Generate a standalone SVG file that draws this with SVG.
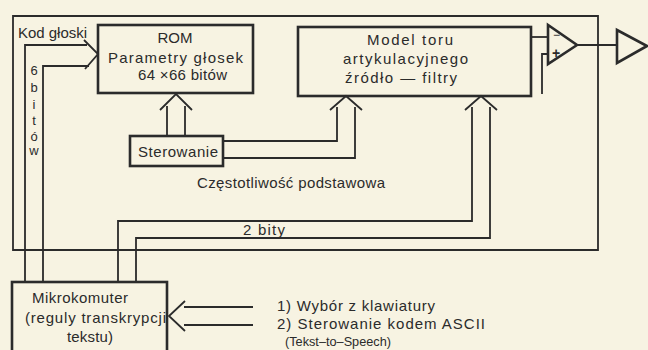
<svg xmlns="http://www.w3.org/2000/svg" width="648" height="350" viewBox="0 0 648 350">
<style>
.bg{fill:#f7f3e2}
.box{fill:none;stroke:#2b2b2b;stroke-width:2.6}
.ln{fill:none;stroke:#2b2b2b;stroke-width:1.8;stroke-linejoin:miter}
.t{font-family:"Liberation Sans",Arial,sans-serif;font-size:15px;fill:#2b2b2b}
.v{font-family:"Liberation Sans",Arial,sans-serif;font-size:13px;fill:#2b2b2b;text-anchor:middle}
.c{text-anchor:middle}
</style>
<rect class="bg" x="0" y="0" width="648" height="350"/>
<g id="connectors">
  <path class="ln" d="M13,16 H598 V250 H13 Z"/>
  <path class="ln" d="M25,282 V45 H87"/>
  <path class="ln" d="M43,282 V66 H89"/>
  <path class="ln" d="M84,40 L98,54 L85,69"/>
  <path class="ln" d="M167,136 V106"/>
  <path class="ln" d="M185,136 V106"/>
  <path class="ln" d="M160,110 L176,94 L192,110"/>
  <path class="ln" d="M223,141 H337 V107"/>
  <path class="ln" d="M223,158 H355 V107"/>
  <path class="ln" d="M330,110 L346,96 L362,110"/>
  <path class="ln" d="M118,282 V221 H472 V107"/>
  <path class="ln" d="M136,282 V238 H490 V107"/>
  <path class="ln" d="M465,110 L481,96 L497,110"/>
  <path class="ln" d="M253,307 H184"/>
  <path class="ln" d="M253,325 H184"/>
  <path class="ln" d="M185,301 L169,316 L185,331"/>
  <path class="ln" d="M531,37 H548"/>
  <path class="ln" d="M542,94 V54 H548"/>
  <path class="ln" d="M577,45 H617"/>
</g>
<g id="rom">
  <rect class="box" x="98" y="25" width="155" height="68"/>
  <text class="t c" x="175" y="43">ROM</text>
  <text class="t" x="108" y="63" textLength="135" lengthAdjust="spacing">Parametry głosek</text>
  <text class="t" x="138" y="80" textLength="89" lengthAdjust="spacing">64 ×66 bitów</text>
</g>
<g id="model">
  <rect class="box" x="298" y="27" width="233" height="69"/>
  <text class="t" x="367" y="45" textLength="86" lengthAdjust="spacing">Model toru</text>
  <text class="t" x="343" y="64" textLength="125" lengthAdjust="spacing">artykulacyjnego</text>
  <text class="t" x="345" y="83" textLength="112" lengthAdjust="spacing">źródło — filtry</text>
</g>
<g id="sterowanie">
  <rect class="box" x="130" y="136" width="93" height="30"/>
  <text class="t" x="138" y="157" textLength="80" lengthAdjust="spacing">Sterowanie</text>
</g>
<g id="mikrokomputer">
  <rect class="box" x="12" y="282" width="155" height="80"/>
  <text class="t" x="32" y="303" textLength="96" lengthAdjust="spacing">Mikrokomuter</text>
  <text class="t" x="25" y="323" textLength="141" lengthAdjust="spacing">(reguly transkrypcji</text>
  <text class="t" x="67" y="342" textLength="46" lengthAdjust="spacing">tekstu)</text>
</g>
<g id="wzmacniacz">
  <path class="box" d="M548,25 L548,64 L577,45 Z"/>
  <text class="t" x="553" y="39" style="font-size:12px">−</text>
  <text class="t" x="552" y="58" style="font-size:14px;font-weight:bold">+</text>
</g>
<g id="wyjscie">
  <path class="box" d="M617,30 L617,63 L647,46 Z"/>
</g>
<g id="labels">
  <text class="t" x="18" y="38" textLength="69" lengthAdjust="spacing">Kod głoski</text>
  <text class="v" x="34" y="75">6</text>
  <text class="v" x="34" y="92">b</text>
  <text class="v" x="34" y="109">i</text>
  <text class="v" x="34" y="125">t</text>
  <text class="v" x="34" y="141">ó</text>
  <text class="v" x="34" y="155">w</text>
  <text class="t" x="197" y="188" textLength="188" lengthAdjust="spacing">Częstotliwość podstawowa</text>
  <text class="t" x="243" y="235" textLength="42" lengthAdjust="spacing">2 bity</text>
  <text class="t" x="277" y="311" textLength="158" lengthAdjust="spacing">1) Wybór z klawiatury</text>
  <text class="t" x="277" y="329" textLength="208" lengthAdjust="spacing">2) Sterowanie kodem ASCII</text>
  <text class="t" x="285" y="346" style="font-size:13px" textLength="106" lengthAdjust="spacingAndGlyphs">(Tekst–to–Speech)</text>
</g>
</svg>
